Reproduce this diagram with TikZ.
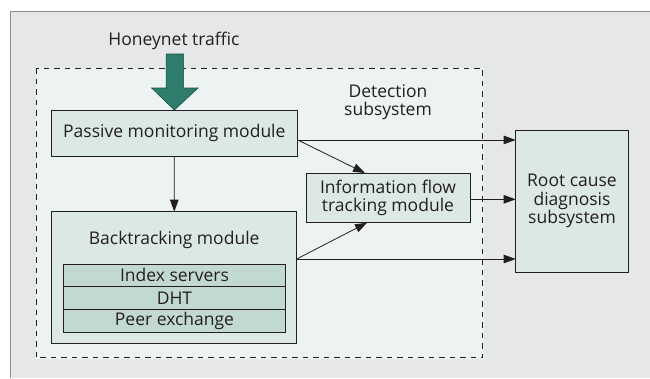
\documentclass[tikz,border=0pt]{standalone}
\usepackage{fontspec}
\setmainfont{Open Sans}
\usetikzlibrary{arrows.meta,positioning}

\definecolor{framegray}{HTML}{E6E7E8}
\definecolor{detfill}{HTML}{EDF2F2}
\definecolor{boxfill}{HTML}{DCE8E5}
\definecolor{stackfill}{HTML}{C2D9D2}
\definecolor{bigteal}{HTML}{2F7E6D}
\definecolor{ink}{HTML}{231F20}

\tikzset{
  modbox/.style={draw=ink, line width=0.9pt, fill=boxfill, inner sep=0pt, outer sep=0pt},
  stackbox/.style={draw=ink, line width=0.9pt, fill=stackfill, inner sep=0pt, outer sep=0pt,
    minimum width=222.4pt, minimum height=22.8pt},
  flow/.style={draw=ink, line width=0.8pt, -{Triangle[length=12pt,width=8.5pt]}},
}

\begin{document}
\begin{tikzpicture}[x=1pt,y=-1pt,text=ink,font=\fontsize{17.5}{18.4}\selectfont]
  \useasboundingbox (0,0) rectangle (650,378);
  \fill[framegray] (10,11) rectangle (650,378);
  \draw[line width=1pt, draw=gray!90] (10,378) -- (10,11) -- (650,11);

  % detection subsystem
  \draw[detfill, fill=detfill] (36,68) rectangle (482.7,357.7);
  \draw[ink, line width=0.9pt, dash pattern=on 5.5pt off 5pt] (36,68) rectangle (482.7,357.7);
  \node[align=center] (detlabel) at (388,102) {Detection\\subsystem};

  \node (traffic) at (174,41) {Honeynet traffic};

  \node[modbox, minimum width=246.7pt, minimum height=46.7pt] (passive) at (174.35,133.35) {Passive monitoring module};
  \node[modbox, minimum width=245pt, minimum height=132pt] (back) at (174.2,277.7) {};
  \node[below=16pt of back.north] (backlabel) {Backtracking module};
  \node[stackbox] (index) at (174.5,275.4) {Index servers};
  \node[stackbox, below=0pt of index] (dht) {DHT};
  \node[stackbox, below=0pt of dht] (peer) {Peer exchange};

  \node[modbox, align=center, minimum width=164pt, minimum height=49.7pt] (info) at (388,197.9) {Information flow\\tracking module};
  \node[modbox, align=center, minimum width=112.6pt, minimum height=142pt] (root) at (572,201) {Root cause\\diagnosis\\subsystem};

  % big input arrow
  \draw[fill=bigteal, draw=bigteal!60!black, line width=0.6pt] (passive.north) -- ++(-22.7,-22) -- ++(14.4,0) -- ++(0,-34)
    -- ++(17.6,0) -- ++(0,34) -- ++(14.4,0) -- cycle;

  \draw[flow] (passive) -- (back);
  \draw[flow] ([yshift=-6.6pt]passive.east) coordinate (p1) -- (p1 -| root.west);
  \draw[flow] (p1) -- ([xshift=-23pt]info.north);
  \draw[flow] ([yshift=-1.4pt]info.east) coordinate (i1) -- (i1 -| root.west);
  \draw[flow] ([yshift=18.7pt]back.east) coordinate (b1) -- (b1 -| root.west);
  \draw[flow] (b1) -- ([xshift=-21pt]info.south);
\end{tikzpicture}
\end{document}
